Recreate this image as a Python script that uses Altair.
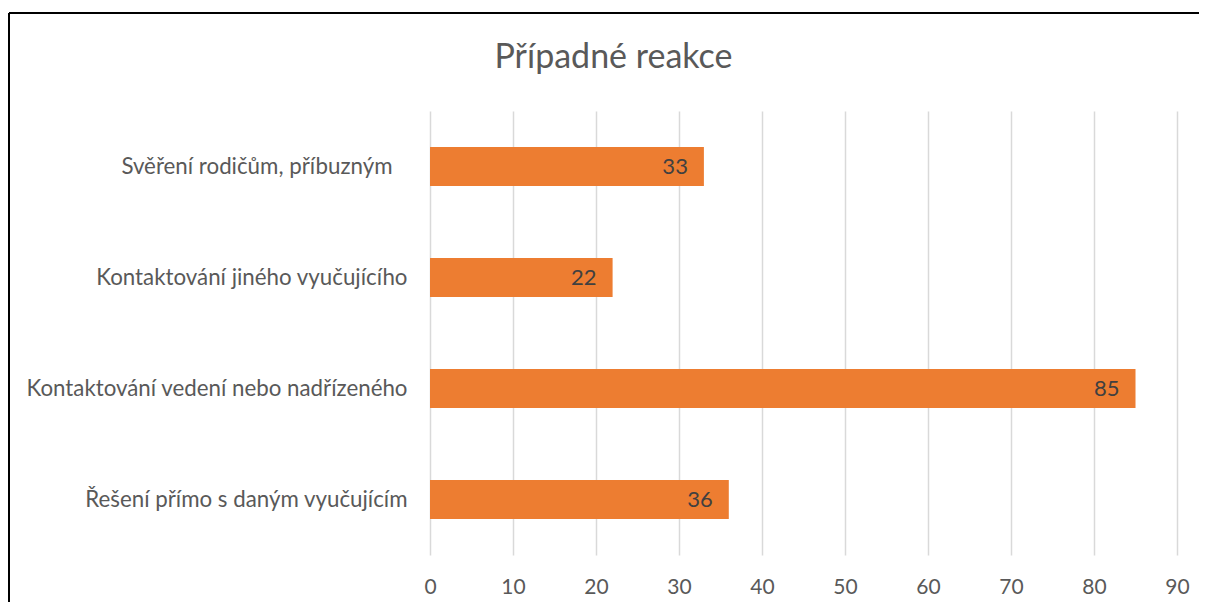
import altair as alt
import pandas as pd

categories = [
    "Svěření rodičům, příbuzným",
    "Kontaktování jiného vyučujícího",
    "Kontaktování vedení nebo nadřízeného",
    "Řešení přímo s daným vyučujícím",
]
values = [33, 22, 85, 36]
x_ticks = [0, 10, 20, 30, 40, 50, 60, 70, 80, 90]

df = pd.DataFrame({"kategorie": categories, "pocet": values})

FONT = "Lato"
W, H = 747, 444

x_enc = alt.X(
    "pocet:Q",
    scale=alt.Scale(domain=[0, 90], nice=False),
    axis=alt.Axis(
        values=x_ticks, title=None, domain=False, ticks=False, grid=True,
        gridColor="#D9D9D9", gridWidth=1.5, labelFont=FONT, labelFontSize=21,
        labelColor="#595959", labelPadding=21, labelFlush=False,
    ),
)
y_enc = alt.Y(
    "kategorie:N",
    sort=categories,
    scale=alt.Scale(paddingInner=0.649, paddingOuter=0.3245),
    axis=alt.Axis(
        title=None, domain=False, ticks=False, grid=False, labelFont=FONT,
        labelFontSize=22.3, labelColor="#595959", labelLimit=500,
        labelPadding={
            "condition": {"test": "datum.label == 'Svěření rodičům, příbuzným'", "value": 38},
            "value": 23,
        },
    ),
)

bars = alt.Chart(df).mark_bar(color="#ED7D31").encode(x=x_enc, y=y_enc)

labels = alt.Chart(df).mark_text(
    align="right", baseline="middle", dx=-16, font=FONT, fontSize=22, color="#404040"
).encode(x=alt.X("pocet:Q"), y=alt.Y("kategorie:N", sort=categories), text="pocet:Q")

border_top = alt.Chart(df).mark_rule(color="#000000", strokeWidth=2).encode(
    x=alt.value(-421), x2=alt.value(W + 40), y=alt.value(-98)
)
border_left = alt.Chart(df).mark_rule(color="#000000", strokeWidth=2).encode(
    x=alt.value(-421), y=alt.value(-98), y2=alt.value(H + 60)
)

chart = alt.layer(bars, labels, border_top, border_left).properties(
    width=W,
    height=H,
    title=alt.TitleParams(
        "Případné reakce", font=FONT, fontSize=34, fontWeight="normal",
        color="#595959", anchor="middle", frame="group", dx=-190,
        baseline="alphabetic", offset=-90,
    ),
    autosize=alt.AutoSizeParams(type="none"),
    padding={"left": 422, "top": 103, "right": 22, "bottom": 47},
).configure_view(stroke=None)

chart.save("out.html", embed_options={"renderer": "svg", "actions": False})
